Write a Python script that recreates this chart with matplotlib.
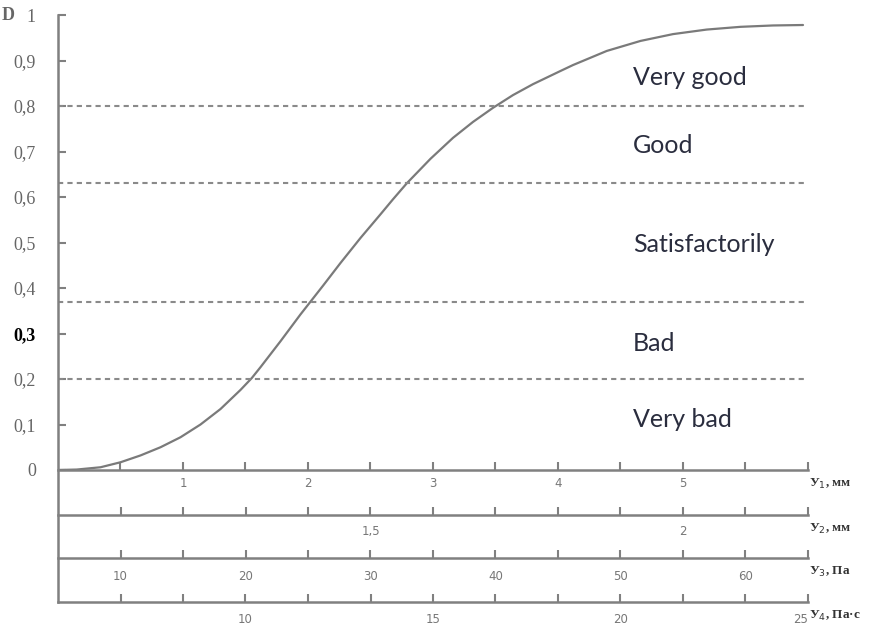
import matplotlib
matplotlib.use('Agg')
import matplotlib.pyplot as plt
from matplotlib.lines import Line2D

# Desirability curve D vs natural scale Y1 (mm)
y1_vals = [0.0, 0.15, 0.34, 0.50, 0.66, 0.82, 0.98, 1.14, 1.30, 1.46, 1.55,
           1.62, 1.78, 1.94, 2.02, 2.12, 2.26, 2.42, 2.58, 2.68, 2.79, 2.98,
           3.16, 3.32, 3.48, 3.64, 3.80, 4.02, 4.12, 4.39, 4.66, 4.92, 5.19,
           5.46, 5.72, 5.96]
d_vals = [0.0, 0.001, 0.006, 0.017, 0.032, 0.050, 0.072, 0.100, 0.134, 0.176,
          0.202, 0.226, 0.283, 0.342, 0.370, 0.405, 0.455, 0.510, 0.562, 0.595,
          0.630, 0.684, 0.730, 0.765, 0.796, 0.824, 0.848, 0.877, 0.890, 0.921,
          0.943, 0.958, 0.968, 0.974, 0.977, 0.978]

# Quality level boundaries and names
levels = [0.8, 0.63, 0.37, 0.2]
grades = ['Very good', 'Good', 'Satisfactorily', 'Bad', 'Very bad']
grade_d = [0.862, 0.714, 0.495, 0.279, 0.110]
grade_x = 4.6

# D axis ticks
d_ticks = [0, 0.1, 0.2, 0.3, 0.4, 0.5, 0.6, 0.7, 0.8, 0.9, 1.0]
d_labels = ['0', '0,1', '0,2', '0,3', '0,4', '0,5', '0,6', '0,7', '0,8', '0,9', '1']

# Scales under the plot
y1_lim = (0, 6)
y1_ticks = [0.5, 1, 1.5, 2, 2.5, 3, 3.5, 4, 4.5, 5, 5.5, 6]
y1_lab = {1: '1', 2: '2', 3: '3', 4: '4', 5: '5'}

y2_lim = (1.0, 2.2)
y2_ticks = [1.1, 1.2, 1.3, 1.4, 1.5, 1.6, 1.7, 1.8, 1.9, 2.0, 2.1, 2.2]
y2_lab = {1.5: '1,5', 2.0: '2'}

y3_lim = (5, 65)
y3_ticks = [10, 15, 20, 25, 30, 35, 40, 45, 50, 55, 60, 65]
y3_lab = {10: '10', 20: '20', 30: '30', 40: '40', 50: '50', 60: '60'}

y4_lim = (5, 25)
y4_ticks = [5 + 5 * k / 3 for k in range(1, 13)]
y4_lab = {10: '10', 15: '15', 20: '20', 25: '25'}

axis_col = '#808080'
text_col = '#666666'
W, H = 873, 625
x0, x1 = 58, 808

fig = plt.figure(figsize=(W / 100, H / 100), dpi=100)
fig.patch.set_facecolor('white')


def fy(py):
    return (H - py) / H


ax = fig.add_axes([x0 / W, fy(470), (x1 - x0) / W, (470 - 15) / H])
ax.set_xlim(*y1_lim)
ax.set_ylim(0, 1)
ax.patch.set_alpha(0)
for s in ['top', 'right', 'left']:
    ax.spines[s].set_visible(False)

ax.plot(y1_vals, d_vals, color='#7a7a7a', lw=1.6, solid_capstyle='round',
        solid_joinstyle='round')
ax.hlines(levels, y1_lim[0], y1_lim[1], colors='#8a8a8a', lw=1.5,
          linestyles=[(0, (2.5, 2))])

for name, d in zip(grades, grade_d):
    ax.text(grade_x, d, name, fontsize=18, family='Lato', color='#2a2d3e',
            va='center', ha='left')

ax.text(-0.4, 1.0, 'D', fontsize=13, family='Liberation Serif', color=text_col,
        ha='center', va='center', fontweight='bold')

# full-height vertical axis line
fig.add_artist(Line2D([x0 / W, x0 / W], [fy(602), fy(15)], color=axis_col, lw=1.8))


def scale_axis(a, lim, ticks, labs, pad, name):
    a.set_xlim(*lim)
    a.patch.set_alpha(0)
    for s in ['top', 'right', 'left']:
        a.spines[s].set_visible(False)
    a.spines['bottom'].set_color(axis_col)
    a.spines['bottom'].set_linewidth(1.8)
    texts = [labs.get(round(t, 3), '') for t in ticks]
    a.set_xticks(ticks, texts)
    a.tick_params(axis='x', direction='in', length=6, width=1.5, color=axis_col,
                  labelsize=8.5, labelcolor='#777777', pad=pad)
    a.annotate(name, xy=(1, 0), xycoords='axes fraction', xytext=(1, -10),
               textcoords='offset points', fontsize=9.5, family='Liberation Serif',
               color='#333333', ha='left', va='center', fontweight='bold')
    return a


scale_axis(ax, y1_lim, y1_ticks, y1_lab, 5, 'У$_1$, мм')

# D axis
ax.set_yticks(d_ticks, d_labels)
ax.tick_params(axis='y', direction='in', length=6, width=1.5, color=axis_col,
               labelsize=13, labelcolor=text_col, pad=16, left=True)
for lab in ax.get_yticklabels():
    lab.set_family('Liberation Serif')
ax.get_yticklabels()[3].set_color('black')
ax.get_yticklabels()[3].set_fontweight('bold')

for py, lim, ticks, labs, pad, name in [
        (515, y2_lim, y2_ticks, y2_lab, 7, 'У$_2$, мм'),
        (558, y3_lim, y3_ticks, y3_lab, 9, 'У$_3$, Па'),
        (602, y4_lim, y4_ticks, y4_lab, 8, 'У$_4$, Па·с')]:
    a = fig.add_axes([x0 / W, fy(py), (x1 - x0) / W, 0.01])
    a.set_yticks([])
    scale_axis(a, lim, ticks, labs, pad, name)
a.get_xticklabels()[-1].set_horizontalalignment('right')

fig.savefig('out.png', dpi=100)
